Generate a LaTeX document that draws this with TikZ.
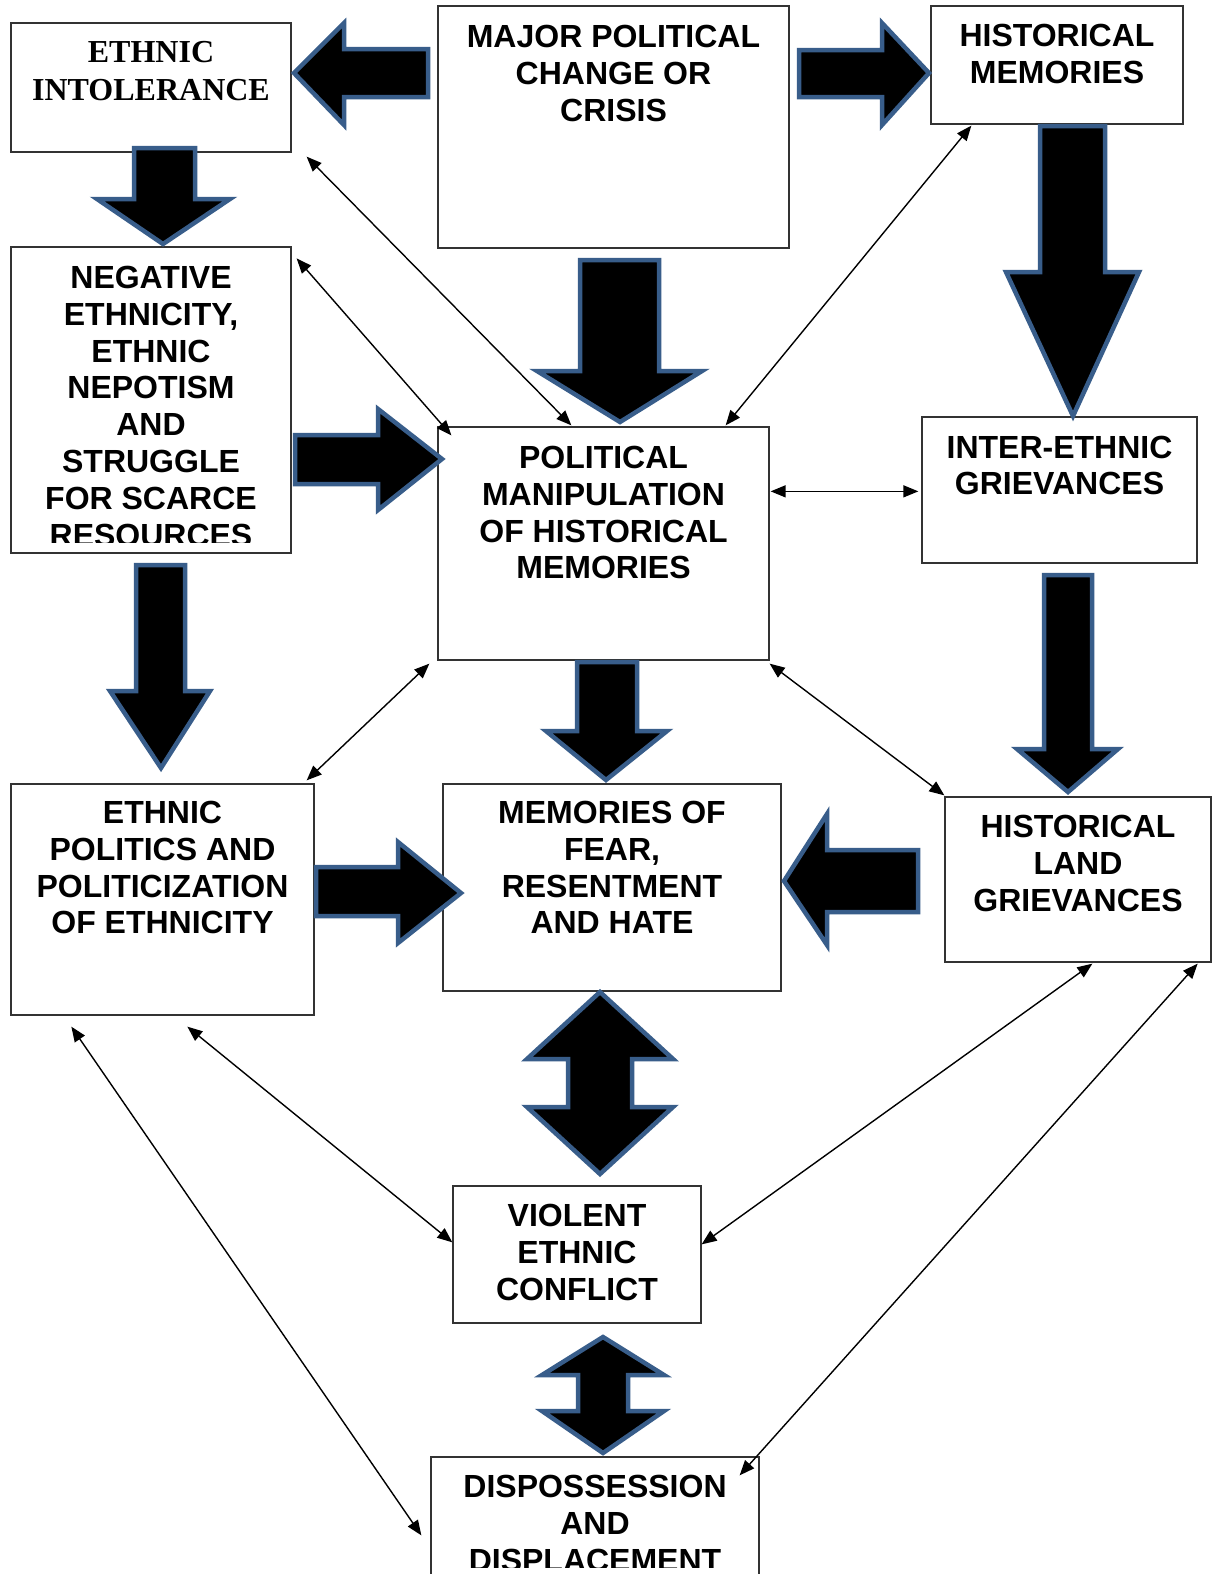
\documentclass[tikz,border=0pt]{standalone}
\usepackage{fontspec}
\newfontfamily\arialfont{Liberation Sans}
\newfontfamily\timesfont{Liberation Serif}
\usetikzlibrary{arrows.meta,calc}
\definecolor{arrowblue}{HTML}{385D8A}
\begin{document}
\begin{tikzpicture}[x=1pt,y=-1pt,
  box/.style={draw=black!80, line width=1.3pt, fill=white, inner sep=0pt},
  txt/.style={anchor=north, inner sep=0pt, align=center, font=\arialfont\bfseries\fontsize{32}{36.8}\selectfont},
  serif txt/.style={anchor=north, inner sep=0pt, align=center, font=\timesfont\bfseries\fontsize{32}{38}\selectfont},
  barrow/.style={fill=black, draw=arrowblue, line width=4.5pt, line join=miter, miter limit=10},
  conn/.style={{Triangle[length=15pt,width=12pt]}-{Triangle[length=15pt,width=12pt]}, line width=1.4pt}]
\useasboundingbox (0,0) rectangle (1218,1574);
\fill[white] (0,0) rectangle (1218,1574);

% boxes
\node[box, minimum width=280, minimum height=129] (ei) at (151,87.5) {};
\node[box, minimum width=351, minimum height=242] (mpc) at (613.5,127) {};
\node[box, minimum width=252, minimum height=118] (hm) at (1057,65) {};
\node[box, minimum width=280, minimum height=306] (ne) at (151,400) {};
\node[box, minimum width=331, minimum height=233] (pm) at (603.5,543.5) {};
\node[box, minimum width=275, minimum height=146] (ieg) at (1059.5,490) {};
\node[box, minimum width=303, minimum height=231] (ep) at (162.5,899.5) {};
\node[box, minimum width=338, minimum height=207] (mf) at (612,887.5) {};
\node[box, minimum width=266, minimum height=165] (hlg) at (1078,879.5) {};
\node[box, minimum width=248, minimum height=137] (vec) at (577,1254.5) {};
\node[box, minimum width=328, minimum height=183] (dd) at (595,1548.5) {};

% block arrows
\draw[barrow] (428,49) -- (344,49) -- (344,23) -- (294,73) -- (344,125) -- (344,97) -- (428,97) -- cycle;
\draw[barrow] (799,50) -- (882,50) -- (882,23) -- (929,73) -- (882,125) -- (882,97) -- (799,97) -- cycle;
\draw[barrow] (134,148) -- (195,148) -- (195,199) -- (230,199) -- (163,244) -- (97,199) -- (134,199) -- cycle;
\draw[barrow] (1040,126) -- (1105,126) -- (1105,272) -- (1139,272) -- (1073,416) -- (1006,272) -- (1040,272) -- cycle;
\draw[barrow] (580,260) -- (659,260) -- (659,371) -- (702,371) -- (620,422) -- (537,371) -- (580,371) -- cycle;
\draw[barrow] (295,435) -- (378,435) -- (378,409) -- (442,459) -- (378,510) -- (378,484) -- (295,484) -- cycle;
\draw[barrow] (136,565) -- (185,565) -- (185,691) -- (210,691) -- (161,768) -- (110,691) -- (136,691) -- cycle;
\draw[barrow] (1044,575) -- (1092,575) -- (1092,749) -- (1118,749) -- (1068,792) -- (1017,749) -- (1044,749) -- cycle;
\draw[barrow] (577,662) -- (637,662) -- (637,731) -- (667,731) -- (606,780) -- (546,731) -- (577,731) -- cycle;
\draw[barrow] (316,867) -- (398,867) -- (398,842) -- (461,893) -- (398,943) -- (398,916) -- (316,916) -- cycle;
\draw[barrow] (918,850) -- (827,850) -- (827,814) -- (784,881) -- (827,945) -- (827,912) -- (918,912) -- cycle;
\draw[barrow] (600,992) -- (673,1059) -- (632,1059) -- (632,1107) -- (673,1107) -- (600,1174) -- (527,1107) -- (568,1107) -- (568,1059) -- (527,1059) -- cycle;
\draw[barrow] (603,1337) -- (664,1375) -- (628,1375) -- (628,1411) -- (664,1411) -- (603,1453) -- (542,1411) -- (578,1411) -- (578,1375) -- (542,1375) -- cycle;

% thin connectors
\draw[conn] ($(ei.south east)+(15,4)$) -- ($(pm.north west)+(134,-1)$);
\draw[conn] ($(ne.north east)+(5,12)$) -- ($(pm.north west)+(14,9)$);
\draw[conn] ($(hm.south west)+(41,1)$) -- ($(pm.north east)+(-44,-1)$);
\draw[conn] ($(pm.north east)+(1,65)$) -- ($(ieg.north west)+(-3,75)$);
\draw[conn] ($(pm.south west)+(-8,3)$) -- ($(ep.north east)+(-8,-3)$);
\draw[conn] ($(pm.south east)+(0,3)$) -- ($(hlg.north west)+(0,-1)$);
\draw[conn] ($(ep.south west)+(177,11)$) -- ($(vec.north west)+(0,57)$);
\draw[conn] ($(ep.south west)+(61,11)$) -- ($(dd.north west)+(-9,79)$);
\draw[conn] ($(hlg.south west)+(148,1)$) -- ($(vec.north east)+(0,59)$);
\draw[conn] ($(hlg.south east)+(-14,1)$) -- ($(dd.north east)+(-20,19)$);

% texts
\node[serif txt] (eit) at (151,41) {ETHNIC\\INTOLERANCE};
\node[txt] (mpct) at (613.5,25) {MAJOR POLITICAL\\CHANGE OR\\CRISIS};
\node[txt] (hmt) at (1057,24) {HISTORICAL\\MEMORIES};
\begin{scope}
\clip (11,247) rectangle (291,542);
\node[txt] (net) at (151,266) {NEGATIVE\\ETHNICITY,\\ETHNIC\\NEPOTISM\\AND\\STRUGGLE\\FOR SCARCE\\RESOURCES};
\end{scope}
\node[txt] (pmt) at (603.5,446) {POLITICAL\\MANIPULATION\\OF HISTORICAL\\MEMORIES};
\node[txt] (iegt) at (1059.5,435.5) {INTER-ETHNIC\\GRIEVANCES};
\node[txt] (ept) at (162.5,801) {ETHNIC\\POLITICS AND\\POLITICIZATION\\OF ETHNICITY};
\node[txt] (mft) at (612,801) {MEMORIES OF\\FEAR,\\RESENTMENT\\AND HATE};
\node[txt] (hlgt) at (1078,815) {HISTORICAL\\LAND\\GRIEVANCES};
\node[txt] (vect) at (577,1204) {VIOLENT\\ETHNIC\\CONFLICT};
\begin{scope}
\clip (431,1457) rectangle (759,1567);
\node[txt] (ddt) at (595,1475) {DISPOSSESSION\\AND\\DISPLACEMENT};
\end{scope}
\end{tikzpicture}
\end{document}
